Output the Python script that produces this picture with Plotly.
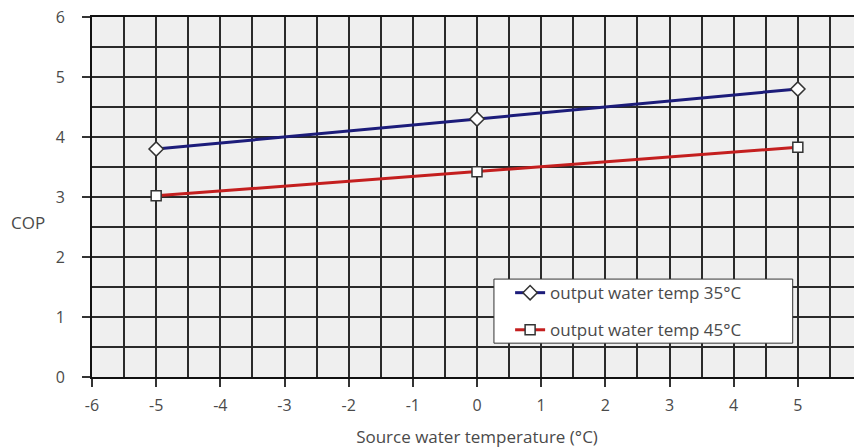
import plotly.graph_objects as go

x_temps = [-5, 0, 5]
cop_35 = [3.8, 4.3, 4.8]
cop_45 = [3.02, 3.42, 3.83]
series_names = ["output water temp 35°C", "output water temp 45°C"]
x_ticks = [-6, -5, -4, -3, -2, -1, 0, 1, 2, 3, 4, 5, 6]
y_ticks = [0, 1, 2, 3, 4, 5, 6]

fig = go.Figure()
fig.add_trace(go.Scatter(
    x=x_temps, y=cop_35, mode="lines+markers", name=series_names[0],
    legendgroup="a",
    line=dict(color="#1c1c7a", width=3),
    marker=dict(symbol="diamond", size=11, color="white", line=dict(color="#333333", width=1.5)),
))
fig.add_trace(go.Scatter(
    x=x_temps, y=cop_45, mode="lines+markers", name=series_names[1],
    legendgroup="b",
    line=dict(color="#c41f1f", width=3),
    marker=dict(symbol="square", size=10, color="white", line=dict(color="#333333", width=1.5)),
))

FAM = "Open Sans, Noto Sans, sans-serif"
font = dict(family=FAM, size=17, color="#4a4a4a")
tickfont = dict(family=FAM, size=16, color="#4a4a4a")

fig.update_layout(
    width=862, height=447,
    margin=dict(l=84, r=8, t=9, b=78),
    paper_bgcolor="white", plot_bgcolor="#efefef",
    font=font,
    showlegend=True,
    legend=dict(
        x=0.543, y=0.283, xanchor="left", yanchor="top",
        bgcolor="rgba(0,0,0,0)", borderwidth=0,
        font=font, traceorder="grouped", tracegroupgap=12,
    ),
    shapes=[dict(
        type="rect", xref="paper", yref="paper",
        x0=0.522, x1=0.910, y0=0.094, y1=0.272,
        fillcolor="white", line=dict(color="#333333", width=1), layer="above",
    )],
    annotations=[dict(
        text="COP", xref="paper", yref="paper", x=-0.083, y=0.43,
        showarrow=False, font=font, xanchor="center", yanchor="middle",
    )],
)
fig.update_xaxes(
    range=[-6, 6], tickvals=x_ticks, ticktext=[str(v) for v in x_ticks],
    automargin=False, tickfont=tickfont, ticklabelstandoff=5,
    ticklabeloverflow="allow",
    showline=True, linecolor="#111111", linewidth=2, mirror=True,
    ticks="outside", ticklen=8, tickcolor="#333333", tickwidth=1.5,
    showgrid=True, gridcolor="#2a2a2a", gridwidth=1.5,
    minor=dict(dtick=0.5, tick0=0, showgrid=True, gridcolor="#2a2a2a", gridwidth=1.5),
    zeroline=False,
    title=dict(text="Source water temperature (°C)", standoff=16, font=font),
)
fig.update_yaxes(
    range=[0, 6], tickvals=y_ticks, ticktext=[str(v) for v in y_ticks],
    automargin=False, tickfont=tickfont, ticklabeloverflow="allow",
    showline=True, linecolor="#111111", linewidth=2, mirror=True,
    ticks="outside", ticklen=8, tickcolor="#333333", tickwidth=1.5,
    ticklabelstandoff=14,
    showgrid=True, gridcolor="#2a2a2a", gridwidth=1.5,
    minor=dict(dtick=0.5, tick0=0, showgrid=True, gridcolor="#2a2a2a", gridwidth=1.5),
    zeroline=False,
)

fig.write_html("out.html")
